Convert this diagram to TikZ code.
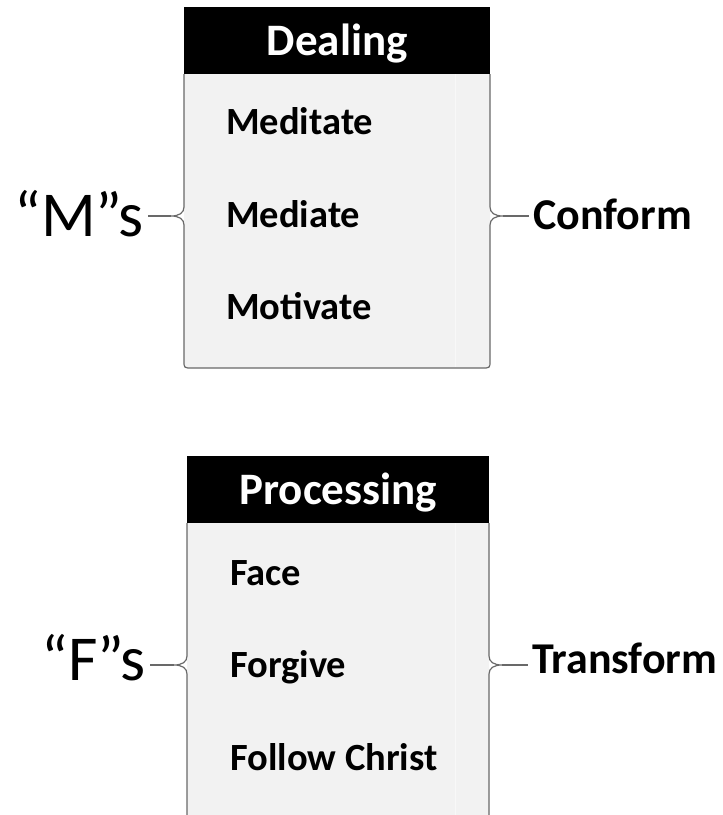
\documentclass[tikz,border=0pt]{standalone}
\usepackage{fontspec}
\setmainfont{Carlito}
\usetikzlibrary{calc}
\definecolor{bodygray}{RGB}{242,242,242}
\definecolor{edgegray}{RGB}{105,105,105}
\definecolor{seamgray}{RGB}{248,248,248}
% body of a list box: sides drawn as braces, #2/#3 left/right x, #4 top, #5 brace tip y, #6 bottom
\def\bracebody[#1](#2:#3)(#4:#5:#6){%
  \fill[bodygray] (#2,#4) -- (#2,#6-7) .. controls (#2,#6) .. (#2+8,#6) -- (#3-8,#6) .. controls (#3,#6) .. (#3,#6-7) -- (#3,#4) -- cycle;
  \draw[#1] (#2,#4) -- (#2,#5-9) .. controls (#2,#5-3) and (#2-5,#5) .. (#2-13,#5) .. controls (#2-5,#5) and (#2,#5+3) .. (#2,#5+9) -- (#2,#6-7) .. controls (#2,#6) .. (#2+8,#6) -- (#3-8,#6) .. controls (#3,#6) .. (#3,#6-7) -- (#3,#5+9) .. controls (#3,#5+3) and (#3+5,#5) .. (#3+13,#5) .. controls (#3+5,#5) and (#3,#5-3) .. (#3,#5-9) -- (#3,#4);}

\begin{document}
\begin{tikzpicture}[x=1pt,y=-1pt,
  headbox/.style={fill=black,text=white,font=\fontsize{45}{54}\selectfont\bfseries,inner sep=0pt,anchor=north west,text height=36pt,text depth=7pt,minimum height=67pt},
  item/.style={font=\fontsize{38.5}{46}\selectfont\bfseries,anchor=base west,inner sep=0pt},
  letters/.style={font=\fontsize{64}{76}\selectfont,inner xsep=4pt,inner ysep=0pt,anchor=east},
  verb/.style={font=\fontsize{44}{52}\selectfont\bfseries,inner xsep=4pt,inner ysep=0pt,anchor=west},
  braceline/.style={draw=edgegray,line width=1.2pt}]
  \useasboundingbox (0,0) rectangle (723,815);
  %%%%% START %%%%%
  \def\lftA{184}
  \def\rgtA{490}
  \def\topA{74}
  \def\brA{216}
  \def\botA{368}
  \def\lftB{187}
  \def\rgtB{489}
  \def\topB{523}
  \def\brB{665}
  \def\botB{840}
  \def\seam{455}

  % Dealing
  \bracebody[braceline](\lftA:\rgtA)(\topA:\brA:\botA)
  \draw[seamgray,line width=1pt] (\seam,\topA) -- (\seam,\botA-1);
  \node[headbox,minimum width=306pt] (dealing) at (\lftA,7) {Dealing};
  \node[item] (meditate) at (226,134) {Meditate};
  \node[item] (mediate) at (226,227) {Mediate};
  \node[item] (motivate) at (226,319) {Motivate};

  \coordinate (tipM) at (\lftA-13,\brA);
  \coordinate (tipC) at (\rgtA+13,\brA);
  \node[letters] (ms) at (148,214) {“M”s};
  \node[verb] (conform) at (529,214) {Conform};
  \draw[braceline] (ms.east |- tipM) -- (tipM);
  \draw[braceline] (tipC) -- (conform.west |- tipC);

  % Processing
  \bracebody[braceline](\lftB:\rgtB)(\topB:\brB:\botB)
  \draw[seamgray,line width=1pt] (\seam,\topB) -- (\seam,815);
  \node[headbox,minimum width=302pt] (processing) at (\lftB,456) {Processing};
  \node[item] (face) at (230,585) {Face};
  \node[item] (forgive) at (230,677) {Forgive};
  \node[item] (follow) at (230,770) {Follow Christ};

  \coordinate (tipF) at (\lftB-13,\brB);
  \coordinate (tipT) at (\rgtB+13,\brB);
  \node[letters] (fs) at (150,658) {“F”s};
  \node[verb] (transform) at (528,658) {Transform};
  \draw[braceline] (fs.east |- tipF) -- (tipF);
  \draw[braceline] (tipT) -- (transform.west |- tipT);
  %%%%% END %%%%%
\end{tikzpicture}
\end{document}
